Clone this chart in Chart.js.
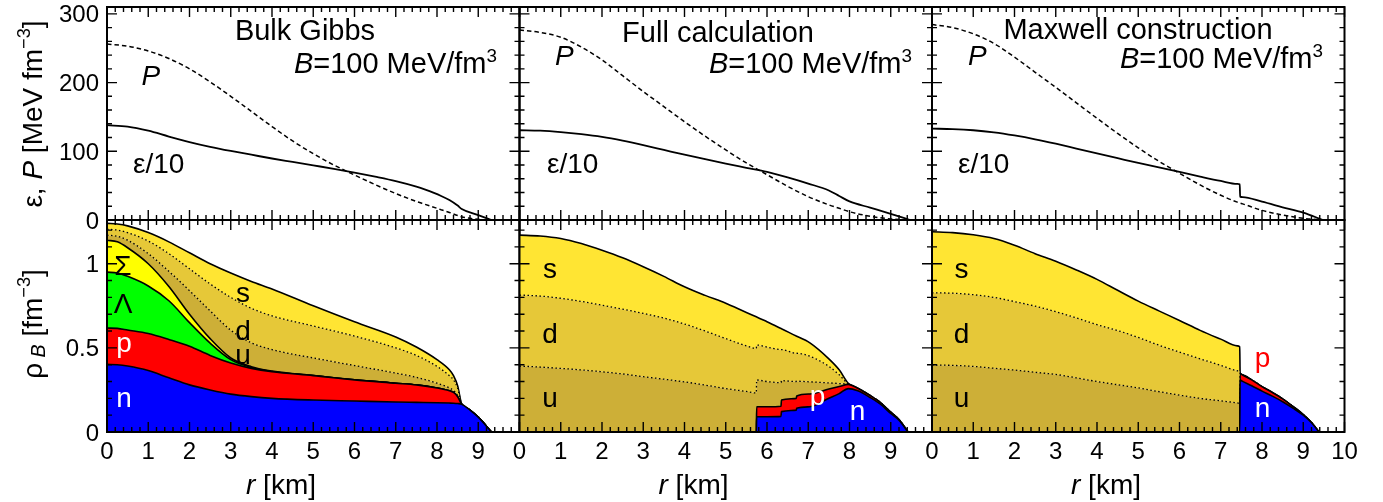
<!DOCTYPE html>
<html><head><meta charset="utf-8">
<script src="https://cdn.jsdelivr.net/npm/chart.js@4.4.0/dist/chart.umd.min.js"></script>
<style>
html,body{margin:0;padding:0;background:#fff;}
#wrap{position:relative;width:1383px;height:502px;overflow:hidden;background:#fff;}
#wrap canvas{position:absolute;left:0;top:0;}
</style></head><body><div id="wrap"></div>
<script>
// ---------------- DATA ----------------
const xTickLabels12 = ['0','1','2','3','4','5','6','7','8','9'];
const xTickLabels3  = ['0','1','2','3','4','5','6','7','8','9','10'];
const yTopTicks = [0, 100, 200, 300];
const yBotTicks = [0, 0.5, 1];
const yBotTickLabels = ['0', '0.5', '1'];

// --- top row: epsilon/10 and P  [MeV fm^-3] vs r [km]
const rTop1 = [0,0.5,1,1.5,2,2.5,3,3.5,4,4.5,5,5.5,6,6.5,7,7.5,7.7,8.1,8.3,8.5,8.6,9.0,9.32];
const eps1  = [138,136,130,121.5,113.5,106.5,100.5,95,89.5,84.5,79.5,74.5,69,63,56.5,48.5,44.5,35,29,21,16,7,0];
const pres1 = [256,253,246,235,220,201,180,158,136,115,96.5,80,65.5,51.5,38.5,27,23,15,11,6.5,4.5,1,0];

const rTop2 = [0,0.5,1,1.5,2,2.5,3,3.5,4,4.5,5,5.5,6,6.5,7,7.5,7.75,8,8.5,9,9.47];
const eps2  = [130.6,130,128,125,121,115.5,109,102,95,88.5,82,76,70,62,53,43,35,27,18,9,0];
const pres2 = [276.7,273,266,251.6,233,210,187,165,143,122,102,83,66,49,34,22,17,12,5.5,1.5,0];

const rTop3 = [0,0.5,1,1.5,2,2.5,3,3.5,4,4.5,5,5.5,6,6.5,7,7.4,7.46,7.47,7.53,8,8.5,9,9.48];
const eps3  = [133,132.3,130.6,127.5,123,117.5,111,104,97,90,83,76.5,70,63.2,56.8,52.6,52,34,33.3,26.6,18.5,10.6,0];
const pres3 = [284.5,280,271,257,237,215,193,170.5,148,126,105,85.5,68,51,36,26,24.8,24.6,23.5,14,7.3,2.4,0];

// --- bottom row: cumulative upper boundary of each species layer, rho_B [fm^-3]
// Bulk Gibbs
const rBot1 = [0,0.25,0.5,1,1.5,2,2.5,3,3.5,4,5,6,7,7.5,8,8.3,8.4,8.5,8.6,8.8,9.0,9.32];
const nTop1 = [0.402,0.4,0.392,0.365,0.322,0.28,0.25,0.225,0.21,0.2,0.19,0.184,0.178,0.176,0.174,0.172,0.171,0.169,0.165,0.13,0.088,0];
const pTop1 = [0.618,0.616,0.606,0.585,0.55,0.51,0.455,0.41,0.378,0.358,0.335,0.31,0.29,0.28,0.262,0.245,0.235,0.21,0.165,0.13,0.088,0];
const LamTop1 = [0.95,0.945,0.925,0.868,0.78,0.65,0.528,0.43,0.383,0.36,0.335,0.31,0.29,0.28,0.262,0.245,0.235,0.21,0.165,0.13,0.088,0];
const SigTop1 = [1.14,1.13,1.095,1.0,0.865,0.7,0.555,0.44,0.388,0.362,0.335,0.31,0.29,0.28,0.262,0.245,0.235,0.21,0.165,0.13,0.088,0];
const uTop1 = [1.17,1.163,1.14,1.06,0.955,0.84,0.72,0.605,0.53,0.49,0.44,0.395,0.35,0.325,0.29,0.262,0.247,0.217,0.165,0.13,0.088,0];
const dTop1 = [1.205,1.2,1.185,1.135,1.06,0.97,0.88,0.8,0.735,0.69,0.63,0.57,0.5,0.455,0.39,0.335,0.31,0.26,0.165,0.13,0.088,0];
const sTop1 = [1.24,1.236,1.225,1.185,1.13,1.065,1.0,0.945,0.895,0.85,0.75,0.655,0.565,0.505,0.43,0.37,0.335,0.275,0.165,0.13,0.088,0];

// Full calculation
const rBot2 = [0,0.5,1,1.5,2,2.5,3,3.5,4,4.5,5,5.5,5.74,5.75,6.0,6.34,6.35,6.71,6.72,7.04,7.5,7.75,7.97,8.2,8.5,8.75,9.0,9.2,9.42];
const nTop2 = [0,0,0,0,0,0,0,0,0,0,0,0,0,0.091,0.091,0.093,0.121,0.13,0.141,0.15,0.2,0.228,0.258,0.245,0.205,0.165,0.11,0.07,0];
const pTop2 = [0,0,0,0,0,0,0,0,0,0,0,0,0,0.15,0.15,0.153,0.19,0.2,0.214,0.226,0.255,0.27,0.283,0.26,0.217,0.175,0.118,0.074,0];
const uTop2 = [0.392,0.386,0.378,0.369,0.358,0.345,0.329,0.314,0.298,0.279,0.258,0.241,0.232,0.309,0.3,0.293,0.305,0.3,0.302,0.298,0.292,0.288,0.283,0.26,0.217,0.175,0.118,0.074,0];
const dTop2 = [0.814,0.808,0.795,0.776,0.754,0.73,0.705,0.677,0.642,0.6,0.555,0.512,0.497,0.517,0.505,0.49,0.49,0.468,0.468,0.45,0.39,0.34,0.285,0.26,0.217,0.175,0.118,0.074,0];
const sTop2 = [1.17,1.165,1.15,1.12,1.08,1.035,0.982,0.925,0.863,0.812,0.765,0.71,0.685,0.684,0.655,0.615,0.614,0.57,0.569,0.53,0.435,0.37,0.29,0.26,0.217,0.175,0.118,0.074,0];

// Maxwell construction
const rBot3 = [0,0.5,1,1.5,2,2.5,3,3.5,4,4.5,5,5.5,6,6.5,7,7.4,7.46,7.47,7.53,7.75,8.0,8.25,8.5,8.75,9.0,9.2,9.38];
const nTop3 = [0,0,0,0,0,0,0,0,0,0,0,0,0,0,0,0,0,0.309,0.301,0.275,0.243,0.213,0.18,0.142,0.1,0.055,0];
const pTop3 = [0,0,0,0,0,0,0,0,0,0,0,0,0,0,0,0,0,0.348,0.339,0.31,0.27,0.235,0.197,0.152,0.104,0.057,0];
const uTop3 = [0.398,0.396,0.39,0.379,0.368,0.355,0.342,0.322,0.3,0.281,0.262,0.24,0.219,0.2,0.185,0.173,0.17,0.348,0.339,0.31,0.27,0.235,0.197,0.152,0.104,0.057,0];
const dTop3 = [0.827,0.825,0.816,0.8,0.775,0.748,0.715,0.678,0.638,0.603,0.562,0.516,0.475,0.435,0.396,0.364,0.358,0.348,0.339,0.31,0.27,0.235,0.197,0.152,0.104,0.057,0];
const sTop3 = [1.19,1.185,1.172,1.15,1.11,1.06,1.015,0.963,0.907,0.842,0.778,0.72,0.663,0.604,0.552,0.512,0.507,0.348,0.339,0.31,0.27,0.235,0.197,0.152,0.104,0.057,0];

// ---------------- STYLE / LAYOUT ----------------
const W = 1383, H = 502;
const COLS = [{l:107, r:519.5}, {l:519.5, r:932}, {l:932, r:1344.5}];
const ROWS = [{t:7, b:220, max:310, minor:20}, {t:220, b:432, max:1.26, minor:0.1}];
const C = {n:'#0000FF', p:'#FF0000', L:'#00FF00', S:'#FFFF00', u:'#CDAF37', d:'#E6C838', s:'#FFE533'};
const FONT = '"Liberation Sans", Arial, Helvetica, sans-serif';
const DECO = {};

function fontStr(size, it){ return (it ? 'italic ' : '') + size + 'px ' + FONT; }
function rich(ctx, parts, x, y, align, size, color){
  ctx.fillStyle = color || '#000';
  ctx.textAlign = 'left'; ctx.textBaseline = 'alphabetic';
  let w = 0;
  for (const p of parts){ ctx.font = fontStr(size*(p.sc||1), p.it); p._w = ctx.measureText(p.t).width; w += p._w; }
  let cx = align === 'center' ? x - w/2 : (align === 'right' ? x - w : x);
  for (const p of parts){ ctx.font = fontStr(size*(p.sc||1), p.it); ctx.fillText(p.t, cx, y + (p.dy||0)*size); cx += p._w; }
}

const deco = {
  id: 'deco',
  afterDraw(chart){
    const cfg = DECO[chart.canvas.id]; if (!cfg) return;
    const ctx = chart.ctx, a = chart.chartArea, xs = chart.scales.x, ys = chart.scales.y;
    const row = ROWS[cfg.row];
    ctx.save();
    ctx.strokeStyle = '#000'; ctx.lineWidth = 1.4;
    ctx.beginPath();
    for (let i = 0; i <= 50; i++){
      const px = xs.getPixelForValue(i*0.2), L = (i%5===0) ? 10 : 5;
      ctx.moveTo(px, a.bottom); ctx.lineTo(px, a.bottom - L);
      ctx.moveTo(px, a.top); ctx.lineTo(px, a.top + L);
    }
    const nY = Math.floor(row.max/row.minor + 1e-6);
    for (let i = 0; i <= nY; i++){
      const py = ys.getPixelForValue(i*row.minor), L = (i%5===0) ? 10 : 5;
      ctx.moveTo(a.left, py); ctx.lineTo(a.left + L, py);
      ctx.moveTo(a.right, py); ctx.lineTo(a.right - L, py);
    }
    ctx.stroke();
    ctx.lineWidth = 2;
    ctx.strokeRect(a.left, a.top, a.right - a.left, a.bottom - a.top);

    if (cfg.col === 0){
      if (cfg.row === 0){
        yTopTicks.forEach(v => rich(ctx, [{t:String(v)}], 99, ys.getPixelForValue(v) + 8.6, 'right', 24));
        ctx.save(); ctx.translate(42, 114); ctx.rotate(-Math.PI/2);
        rich(ctx, [{t:'ε, '}, {t:'P', it:true}, {t:' [MeV fm'}, {t:'−3', sc:0.65, dy:-0.42}, {t:']'}], 0, 0, 'center', 28);
        ctx.restore();
      } else {
        yBotTicks.forEach((v,i) => rich(ctx, [{t:yBotTickLabels[i]}], 99, ys.getPixelForValue(v) + 8.6, 'right', 24));
        ctx.save(); ctx.translate(42, 324); ctx.rotate(-Math.PI/2);
        rich(ctx, [{t:'ρ'}, {t:' B', it:true, sc:0.7, dy:0.12}, {t:' [fm'}, {t:'−3', sc:0.65, dy:-0.42}, {t:']'}], 0, 0, 'center', 28);
        ctx.restore();
      }
    }
    if (cfg.row === 1){
      const labs = cfg.col === 2 ? xTickLabels3 : xTickLabels12;
      labs.forEach(s => rich(ctx, [{t:s}], xs.getPixelForValue(parseFloat(s)), 458.5, 'center', 24));
      rich(ctx, [{t:'r', it:true}, {t:' [km]'}], a.left + 174, 494, 'center', 28);
    }
    (cfg.texts || []).forEach(tx => rich(ctx, tx.parts, tx.x, tx.y, tx.align || 'left', tx.size || 28, tx.color));
    ctx.restore();
  }
};

function series(xv, yv){ return xv.map((x,i) => ({x:x, y:yv[i]})); }
function curve(xv, yv, dash, width){
  return {data: series(xv, yv), fill:false, borderColor:'#000', borderWidth: width, borderDash: dash,
          pointRadius:0, cubicInterpolationMode:'monotone'};
}
function layer(xv, yv, fill, bg, dotted){
  return {data: series(xv, yv), fill: fill, backgroundColor: bg, borderColor:'#000',
          borderWidth: dotted ? 1.3 : 1.6, borderDash: dotted ? [1.5, 2.5] : [],
          pointRadius:0, cubicInterpolationMode:'monotone'};
}

function makePanel(col, row, datasets, texts){
  const id = 'c' + col + row;
  const cv = document.createElement('canvas');
  cv.id = id; cv.width = W; cv.height = H; cv.style.width = W + 'px'; cv.style.height = H + 'px';
  document.getElementById('wrap').appendChild(cv);
  DECO[id] = {col, row, texts};
  const c = COLS[col], rw = ROWS[row];
  new Chart(cv, {
    type:'line',
    data:{datasets},
    options:{
      responsive:false, animation:false, devicePixelRatio:1, events:[],
      layout:{padding:{left:c.l, right:W - c.r, top:rw.t, bottom:H - rw.b}},
      plugins:{legend:{display:false}, tooltip:{enabled:false}},
      scales:{
        x:{type:'linear', min:0, max:10, display:false},
        y:{type:'linear', min:0, max:rw.max, display:false}
      }
    },
    plugins:[deco]
  });
}

const BEQ = () => [{t:'B', it:true}, {t:'=100 MeV/fm'}, {t:'3', sc:0.65, dy:-0.38}];

// top row
makePanel(0, 0, [curve(rTop1, eps1, [], 1.8), curve(rTop1, pres1, [4.5,3], 1.5)], [
  {parts:[{t:'Bulk Gibbs'}], x:305, y:40, align:'center', size:29},
  {parts:BEQ(), x:497, y:73, align:'right', size:29},
  {parts:[{t:'P', it:true}], x:141.5, y:85},
  {parts:[{t:'ε/10'}], x:133, y:173}
]);
makePanel(1, 0, [curve(rTop2, eps2, [], 1.8), curve(rTop2, pres2, [4.5,3], 1.5)], [
  {parts:[{t:'Full calculation'}], x:718, y:41.5, align:'center', size:29},
  {parts:BEQ(), x:912, y:73, align:'right', size:29},
  {parts:[{t:'P', it:true}], x:555, y:65},
  {parts:[{t:'ε/10'}], x:547, y:173}
]);
makePanel(2, 0, [curve(rTop3, eps3, [], 1.8), curve(rTop3, pres3, [4.5,3], 1.5)], [
  {parts:[{t:'Maxwell construction'}], x:1138, y:38.5, align:'center', size:29},
  {parts:BEQ(), x:1323, y:68, align:'right', size:29},
  {parts:[{t:'P', it:true}], x:968, y:65},
  {parts:[{t:'ε/10'}], x:958, y:173}
]);

// bottom row
makePanel(0, 1, [
  layer(rBot1, nTop1, 'origin', C.n, false),
  layer(rBot1, pTop1, '-1', C.p, false),
  layer(rBot1, LamTop1, '-1', C.L, false),
  layer(rBot1, SigTop1, '-1', C.S, false),
  layer(rBot1, uTop1, '-1', C.u, true),
  layer(rBot1, dTop1, '-1', C.d, true),
  layer(rBot1, sTop1, '-1', C.s, false)
], [
  {parts:[{t:'Σ'}], x:123, y:275, align:'center'},
  {parts:[{t:'Λ'}], x:123, y:313, align:'center'},
  {parts:[{t:'p'}], x:124, y:351.5, align:'center', color:'#fff'},
  {parts:[{t:'n'}], x:124, y:406.5, align:'center', color:'#fff'},
  {parts:[{t:'s'}], x:243, y:301.5, align:'center'},
  {parts:[{t:'d'}], x:243, y:340, align:'center'},
  {parts:[{t:'u'}], x:243, y:364, align:'center'}
]);
makePanel(1, 1, [
  layer(rBot2, nTop2, 'origin', C.n, false),
  layer(rBot2, pTop2, '-1', C.p, false),
  layer(rBot2, uTop2, '-1', C.u, true),
  layer(rBot2, dTop2, '-1', C.d, true),
  layer(rBot2, sTop2, '-1', C.s, false)
], [
  {parts:[{t:'s'}], x:550, y:278, align:'center'},
  {parts:[{t:'d'}], x:550, y:343, align:'center'},
  {parts:[{t:'u'}], x:550, y:406.5, align:'center'},
  {parts:[{t:'p'}], x:817.5, y:405, align:'center', color:'#fff'},
  {parts:[{t:'n'}], x:857.5, y:420, align:'center', color:'#fff'}
]);
makePanel(2, 1, [
  layer(rBot3, nTop3, 'origin', C.n, false),
  layer(rBot3, pTop3, '-1', C.p, false),
  layer(rBot3, uTop3, '-1', C.u, true),
  layer(rBot3, dTop3, '-1', C.d, true),
  layer(rBot3, sTop3, '-1', C.s, false)
], [
  {parts:[{t:'s'}], x:961.5, y:278, align:'center'},
  {parts:[{t:'d'}], x:961.5, y:343, align:'center'},
  {parts:[{t:'u'}], x:961.5, y:406.5, align:'center'},
  {parts:[{t:'p'}], x:1262.5, y:366.5, align:'center', color:'#FF0000'},
  {parts:[{t:'n'}], x:1262.5, y:416.5, align:'center', color:'#fff'}
]);
</script>
</body></html>
